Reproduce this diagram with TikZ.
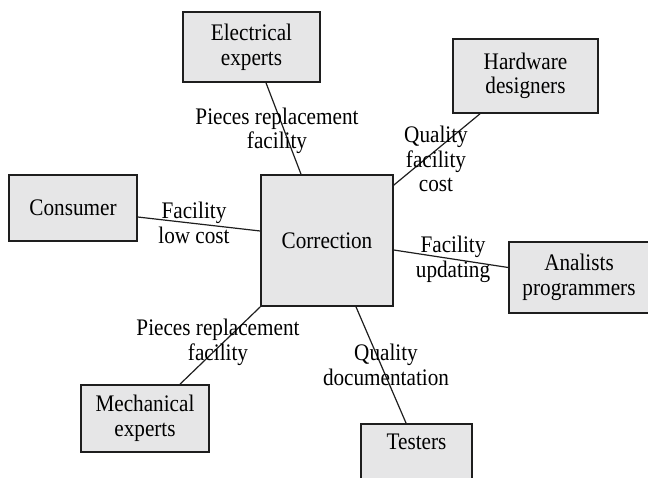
\documentclass[tikz,border=0pt]{standalone}
\usepackage{fontspec}
\setmainfont{Liberation Serif}
\usepackage{tikz}
\definecolor{boxgray}{RGB}{230,230,231}
\definecolor{inkgray}{RGB}{30,30,30}

\begin{document}
\begin{tikzpicture}[x=1pt,y=-1pt,
  font=\fontsize{21.2}{22}\selectfont,
  stretch/.style={yscale=1.12,transform shape},
  box/.style={stretch,draw=inkgray,line width=1.5pt,fill=boxgray,align=center,inner sep=0pt},
  lbl/.style={stretch,align=center,inner sep=0pt,text=black},
  link/.style={draw=inkgray,line width=1.2pt}]
\useasboundingbox (0,0) rectangle (648,477);
\clip (0,0) rectangle (648,477);
% boxes
\node[box,minimum width=137,minimum height=62.5] (elec) at (251.5,47) {Electrical\\experts};
\node[box,minimum width=145,minimum height=66] (hw) at (525.5,76) {Hardware\\designers};
\node[box,minimum width=128,minimum height=59] (cons) at (73,208) {Consumer};
\node[box,minimum width=132,minimum height=117] (corr) at (327,240.5) {Correction};
\node[box,minimum width=140,minimum height=63.4] (anal) at (579,277.5) {Analists\\programmers};
\node[box,minimum width=128,minimum height=59.8] (mech) at (145,418.5) {Mechanical\\experts};
\node[box,anchor=north,minimum width=111,inner ysep=9pt,text height=14pt,text depth=50pt] (test) at (416.5,423) {Testers};
% links
\draw[link] ([xshift=14.5pt]elec.south) -- ([xshift=-26pt]corr.north);
\draw[link] ([xshift=-45.5pt]hw.south) -- ([yshift=-11pt]corr.north east);
\draw[link] ([yshift=-9pt]cons.east) -- ([yshift=9.5pt]corr.west);
\draw[link] ([yshift=-9.5pt]corr.east) -- ([yshift=10pt]anal.west);
\draw[link] (corr.south west) -- ([xshift=35pt]mech.north);
\draw[link] ([xshift=29pt]corr.south) -- ([xshift=-10.5pt]test.north);
% labels
\node[lbl] (lelec) at (277,131) {Pieces replacement\\facility};
\node[lbl] (lhw) at (436,159) {Quality\\facility\\cost};
\node[lbl] (lcons) at (194,223) {Facility\\low cost};
\node[lbl] (lanal) at (453,259) {Facility\\updating};
\node[lbl] (lmech) at (218,342) {Pieces replacement\\facility};
\node[lbl] (ltest) at (386,365) {Quality\\documentation};
\end{tikzpicture}
\end{document}
